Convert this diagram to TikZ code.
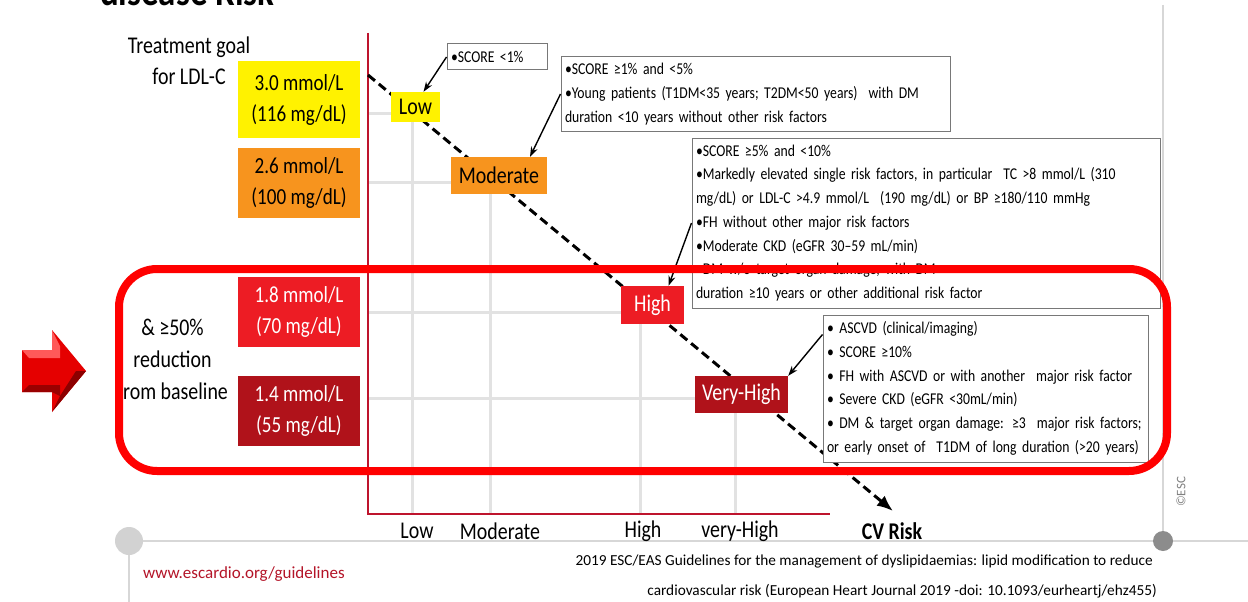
\documentclass[tikz,border=0pt]{standalone}
\usepackage{fontspec}
\setmainfont{Carlito}
\newfontfamily\cf{Carlito}[FakeStretch=0.83]
\newfontfamily\cfn{Carlito}
\newcommand\myinfofont{\cf\fontsize{16.5}{23.7}\selectfont\spaceskip=0.2em plus 0.05em minus 0.05em\relax\hyphenpenalty=10000\relax}
\usetikzlibrary{arrows.meta}
\definecolor{yellowbox}{RGB}{255,242,0}
\definecolor{orangebox}{RGB}{247,148,30}
\definecolor{redbox}{RGB}{237,28,36}
\definecolor{darkredbox}{RGB}{176,18,26}
\definecolor{axisred}{RGB}{190,20,45}
\definecolor{framered}{RGB}{255,0,0}
\definecolor{gridgray}{RGB}{226,226,226}
\definecolor{infogray}{RGB}{120,120,120}
\definecolor{footred}{RGB}{180,20,40}
\definecolor{lightline}{RGB}{215,215,215}
\definecolor{lcirc}{RGB}{210,210,210}
\definecolor{rcirc}{RGB}{140,140,140}
\begin{document}
\begin{tikzpicture}[x=1pt,y=-1pt,
  goal/.style={minimum width=122pt, minimum height=70pt, inner sep=0pt, align=center, font=\cf\fontsize{23}{31}\selectfont},
  risk/.style={inner sep=0pt, font=\cf\fontsize{24}{28}\selectfont},
  info/.style={draw=infogray, fill=white, line width=1pt, inner xsep=4pt, inner ysep=0pt, align=left, font=\myinfofont},
  conn/.style={line width=1.4pt, -{Stealth[length=10pt,width=7pt]}},
  gridl/.style={gridgray, line width=3pt},
  axisl/.style={axisred, line width=2.5pt},
  axlab/.style={font=\cf\fontsize{24}{28}\selectfont},
  dashline/.style={line width=3pt, dash pattern=on 9pt off 5pt, -{Latex[length=16pt,width=13pt]}},
  plain/.style={lightline, line width=1.5pt}
]
\useasboundingbox (0,0) rectangle (1248,602);
\fill[white] (0,0) rectangle (1248,602);

% title (cut off at top, as in the original)
\begin{scope}
\clip (0,0) rectangle (1248,602);
\node[anchor=base west, inner sep=0pt, font=\cf\bfseries\fontsize{42}{42}\selectfont] (title) at (100,6) {disease Risk};
\end{scope}

% page decorations
\node[circle, fill=lcirc, minimum size=28pt, inner sep=0pt] (lc) at (129,541) {};
\node[circle, fill=rcirc, minimum size=20pt, inner sep=0pt] (rc) at (1163,541) {};
\coordinate (rtop) at (1163,5);
\coordinate (hend) at (1248,541);
\coordinate (vend) at (129,602);
\draw[plain] (lc) -- (rc);
\draw[plain] (rc) -- (hend);
\draw[plain] (rtop) -- (rc);
\draw[plain] (lc) -- (vend);

% grid
\draw[gridl] (368,113) -- (395,113);
\draw[gridl] (368,182) -- (455,182);
\draw[gridl] (368,312) -- (625,312);
\draw[gridl] (368,398) -- (700,398);
\draw[gridl] (412,118) -- (412,513);
\draw[gridl] (490,190) -- (490,513);
\draw[gridl] (640,320) -- (640,513);
\draw[gridl] (735,410) -- (735,513);

% axes
\coordinate (otop) at (368,33);
\coordinate (orig) at (368,514);
\coordinate (xend) at (830,514);
\draw[axisl] (otop) -- (orig) -- (xend);

% dashed trend arrow
\coordinate (ds) at (368,75);
\coordinate (de) at (893,511);
\draw[dashline] (ds) -- (de);

% risk category boxes
\node[risk, fill=yellowbox, minimum width=49pt, minimum height=30pt] (low) at (415.5,107) {Low};
\node[risk, fill=orangebox, minimum width=96pt, minimum height=37pt] (mod) at (499,175.5) {Moderate};
\node[risk, fill=redbox, text=white, minimum width=63pt, minimum height=38pt] (high) at (652.5,305) {High};
\node[risk, fill=darkredbox, text=white, minimum width=93pt, minimum height=37pt] (vh) at (741.5,394.5) {Very-High};

% goal boxes
\node[font=\cf\fontsize{24}{32}\selectfont, align=center, inner sep=0pt] (tg) at (189,61) {Treatment goal\\[-1pt]for LDL-C};
\node[goal, fill=yellowbox, minimum height=77pt] (g1) at (299,99.5) {3.0 mmol/L\\(116 mg/dL)};
\node[goal, fill=orangebox] (g2) at (299,183) {2.6 mmol/L\\(100 mg/dL)};
\node[goal, fill=redbox, text=white] (g3) at (299,312) {1.8 mmol/L\\(70 mg/dL)};
\node[goal, fill=darkredbox, text=white] (g4) at (299,411) {1.4 mmol/L\\(55 mg/dL)};
\node[font=\cf\fontsize{24}{32}\selectfont, align=center, inner sep=0pt] (red50) at (172.5,359) {\& ≥50\%\\reduction\\from baseline};

% info boxes
\node[info, minimum width=100pt, minimum height=26pt, text width=92pt] (s1) at (497,57) {•SCORE <1\%};
\node[info, minimum width=389pt, minimum height=74pt, text width=381pt] (mi) at (755.5,94) {•SCORE ≥1\% and <5\%\\\mbox{•Young patients (T1DM<35 years; T2DM<50 years)\ \ with DM}\\duration <10 years without other risk factors};
\node[info, minimum width=468pt, minimum height=170pt, text width=460pt] (hi) at (926,223) {•SCORE ≥5\% and <10\%\\\mbox{•Markedly elevated single risk factors, in particular\ \ TC >8 mmol/L (310}\\\mbox{mg/dL) or LDL-C >4.9 mmol/L\ \ (190 mg/dL) or BP ≥180/110 mmHg}\\•FH without other major risk factors\\•Moderate CKD (eGFR 30–59 mL/min)\\•DM w/o target organ damage, with DM\\duration ≥10 years or other additional risk factor};
\node[info, minimum width=325pt, minimum height=147pt, text width=317pt] (vi) at (985.5,388.5) {• ASCVD (clinical/imaging)\\• SCORE ≥10\%\\\mbox{• FH with ASCVD or with another\ \ major risk factor}\\• Severe CKD (eGFR <30mL/min)\\\mbox{• DM \& target organ damage: ≥3\ \ major risk factors;}\\\mbox{or early onset of\ \ T1DM of long duration (>20 years)}};

% connectors
\draw[conn] (s1.west) -- ([xshift=8pt]low.north);
\draw[conn] (mi.west) -- ([xshift=31pt]mod.north);
\draw[conn] (hi.west) -- ([xshift=16pt]high.north);
\draw[conn] ([yshift=-20pt]vi.north west) -- (vh.north east);

% red frame
\draw[framered, line width=8pt, rounded corners=38pt] (119,269) rectangle (1167,471);

% red 3D arrow
\fill[red!90!black] (22,350) -- (52,350) -- (52,330) -- (86,371) -- (52,412) -- (52,392) -- (22,392) -- cycle;
\fill[red!65!white] (22,350) -- (52,350) -- (52,330) -- (60,346) -- (60,358) -- (29,358) -- cycle;
\fill[red!60!black] (22,392) -- (29,385) -- (60,385) -- (60,396) -- (52,392) -- cycle;
\fill[red!55!black] (86,371) -- (52,412) -- (60,396) -- (76,371) -- cycle;

% axis labels
\node[axlab] (xl1) at (417,531) {Low};
\node[axlab] (xl2) at (500,531) {Moderate};
\node[axlab] (xl3) at (643,531) {High};
\node[axlab] (xl4) at (740,531) {very-High};
\node[axlab, font=\cf\bfseries\fontsize{24}{28}\selectfont] (xl5) at (892,531) {CV Risk};

% footer
\node[anchor=west, inner sep=0pt, text=footred, font=\cfn\fontsize{17}{20}\selectfont] (www) at (143,574) {www.escardio.org/guidelines};
\node[anchor=east, inner sep=0pt, font=\cfn\fontsize{15.3}{18}\selectfont] (cit1) at (1153,561) {2019 ESC/EAS Guidelines for the management of dyslipidaemias: lipid modification to reduce};
\node[anchor=east, inner sep=0pt, font=\cfn\fontsize{15.3}{18}\selectfont] (cit2) at (1157,591) {cardiovascular risk (European Heart Journal 2019 -doi: 10.1093/eurheartj/ehz455)};
\node[rotate=90, inner sep=0pt, text=gray, font=\cfn\fontsize{13}{15}\selectfont] (esc) at (1181,492) {©ESC};
\end{tikzpicture}
\end{document}
